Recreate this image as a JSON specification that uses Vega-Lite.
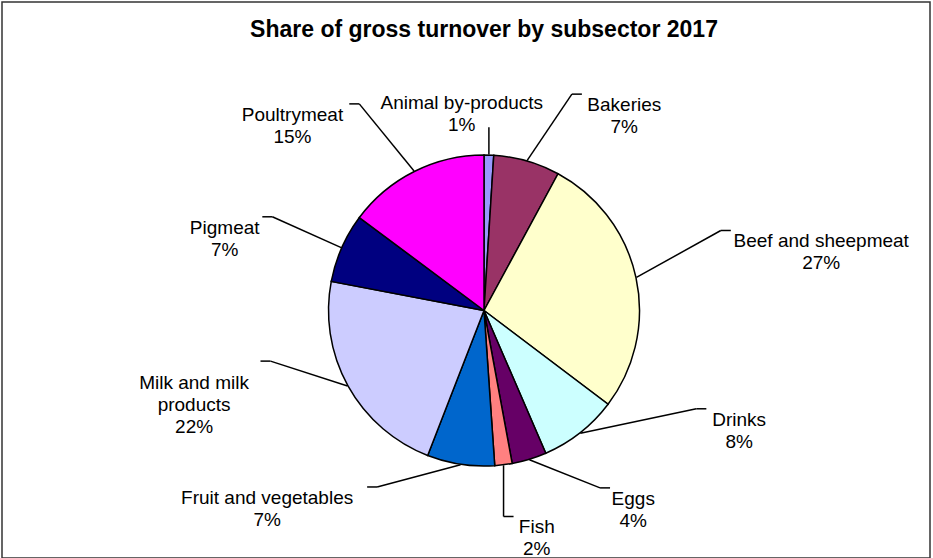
{
  "$schema": "https://vega.github.io/schema/vega-lite/v6.json",
  "width": 928,
  "height": 556,
  "autosize": {"type": "none"},
  "padding": {"left": 2, "top": 2, "right": 3, "bottom": 0},
  "background": "white",
  "config": {"view": {"stroke": "#333333", "strokeWidth": 1.5}, "font": "Liberation Sans"},
  "title": {
    "text": "Share of gross turnover by subsector 2017",
    "font": "Liberation Sans",
    "fontSize": 23,
    "fontWeight": "bold",
    "color": "black",
    "anchor": "middle",
    "frame": "group",
    "baseline": "alphabetic",
    "offset": -58,
    "dx": 18
  },
  "data": {
    "values": [
      {"subsector": "Animal by-products", "share": 1.0},
      {"subsector": "Bakeries", "share": 6.9},
      {"subsector": "Beef and sheepmeat", "share": 27.4},
      {"subsector": "Drinks", "share": 8.2},
      {"subsector": "Eggs", "share": 3.6},
      {"subsector": "Fish", "share": 1.8},
      {"subsector": "Fruit and vegetables", "share": 7.0},
      {"subsector": "Milk and milk products", "share": 22.1},
      {"subsector": "Pigmeat", "share": 7.2},
      {"subsector": "Poultrymeat", "share": 14.8}
    ]
  },
  "transform": [
    {"joinaggregate": [{"op": "sum", "field": "share", "as": "total"}]},
    {"window": [{"op": "sum", "field": "share", "as": "cum"}], "sort": [{"field": "subsector"}], "frame": [null, 0]},
    {"calculate": "360*(datum.cum - datum.share/2)/datum.total", "as": "mid"},
    {"calculate": "[-360, 0, 360]", "as": "copy"},
    {"flatten": ["copy"]},
    {"calculate": "datum.mid + datum.copy", "as": "ang"},
    {"window": [{"op": "row_number", "as": "k"}], "sort": [{"field": "ang"}]},
    {"calculate": "datum.ang - 30*datum.k", "as": "a"},
    {"window": [{"op": "max", "field": "a", "as": "fmax"}], "sort": [{"field": "ang"}], "frame": [null, 0]},
    {"window": [{"op": "min", "field": "a", "as": "bmin"}], "sort": [{"field": "ang"}], "frame": [0, null]},
    {"filter": "datum.copy == 0"},
    {"calculate": "((datum.fmax + datum.bmin)/2 + 30*datum.k)*PI/180", "as": "t"},
    {"calculate": "datum.mid*PI/180", "as": "tm"},
    {"calculate": "lastindexof(datum.subsector, ' ')", "as": "sp"},
    {"calculate": "length(datum.subsector) > 20", "as": "wrap"},
    {"calculate": "round(100*datum.share/datum.total) + '%'", "as": "pct"},
    {"calculate": "datum.wrap ? substring(datum.subsector, 0, datum.sp) + '\\n' + substring(datum.subsector, datum.sp + 1) + '\\n' + datum.pct : datum.subsector + '\\n' + datum.pct", "as": "txt"},
    {"calculate": "datum.wrap ? 3 : 2", "as": "n"},
    {"calculate": "4.8*(datum.wrap ? datum.sp : length(datum.subsector))", "as": "hw"},
    {"calculate": "11*datum.n", "as": "hh"},
    {"calculate": "156*sin(datum.tm)", "as": "ex"},
    {"calculate": "156*cos(datum.tm)", "as": "ey"},
    {"calculate": "sin(datum.tm) >= 0 ? 1 : -1", "as": "g"},
    {"calculate": "cos(datum.t) > 0.95", "as": "top"},
    {"calculate": "cos(datum.t) < -0.95", "as": "bottom"},
    {"calculate": "sin(datum.t)", "as": "s"},
    {"calculate": "datum.bottom ? datum.ex + datum.g*(datum.hw + 14) : (datum.s >= 0 ? 262 : 240)*datum.s + datum.hw*clamp((abs(datum.s) - 0.15)*3, 0, 1)*(datum.s >= 0 ? 1 : -1)", "as": "cx"},
    {"calculate": "cos(datum.t) > 0 ? (185 + datum.hh)*cos(datum.t) + 30*pow(sin(2*datum.t), 2) : (195 + datum.hh)*cos(datum.t)", "as": "cy"},
    {"calculate": "datum.top ? clamp(datum.ex, datum.cx - datum.hw, datum.cx + datum.hw) : datum.cx - datum.g*(datum.hw + 4)", "as": "px"},
    {"calculate": "datum.top ? datum.cy - datum.hh - 2 : datum.cy + 11*(datum.n - 1)", "as": "py"},
    {"calculate": "datum.top ? datum.px : datum.px - 10*datum.g", "as": "kx"},
    {"calculate": "datum.py", "as": "ky"}
  ],
  "layer": [
    {
      "mark": {"type": "arc", "outerRadius": 155.5, "stroke": "black", "strokeWidth": 1.5},
      "encoding": {
        "theta": {"field": "share", "type": "quantitative", "stack": true},
        "color": {
          "field": "subsector",
          "type": "nominal",
          "scale": {
            "domain": ["Animal by-products", "Bakeries", "Beef and sheepmeat", "Drinks", "Eggs", "Fish", "Fruit and vegetables", "Milk and milk products", "Pigmeat", "Poultrymeat"],
            "range": ["#9999FF", "#993366", "#FFFFCC", "#CCFFFF", "#660066", "#FF8080", "#0066CC", "#CCCCFF", "#000080", "#FF00FF"]
          },
          "legend": null
        },
        "x": {"datum": 0, "type": "quantitative", "scale": {"domain": [-482, 446], "nice": false, "zero": false}, "axis": null},
        "y": {"datum": 0, "type": "quantitative", "scale": {"domain": [-247.5, 308.5], "nice": false, "zero": false}, "axis": null}
      }
    },
    {
      "mark": {"type": "rule", "color": "black", "strokeWidth": 1.5},
      "encoding": {
        "x": {"field": "ex", "type": "quantitative", "scale": {"domain": [-482, 446], "nice": false, "zero": false}, "axis": null},
        "y": {"field": "ey", "type": "quantitative", "scale": {"domain": [-247.5, 308.5], "nice": false, "zero": false}, "axis": null},
        "x2": {"field": "kx"},
        "y2": {"field": "ky"}
      }
    },
    {
      "mark": {"type": "rule", "color": "black", "strokeWidth": 1.5},
      "encoding": {
        "x": {"field": "kx", "type": "quantitative", "scale": {"domain": [-482, 446], "nice": false, "zero": false}, "axis": null},
        "y": {"field": "ky", "type": "quantitative", "scale": {"domain": [-247.5, 308.5], "nice": false, "zero": false}, "axis": null},
        "x2": {"field": "px"},
        "y2": {"field": "py"}
      }
    },
    {
      "mark": {"type": "text", "font": "Liberation Sans", "fontSize": 19, "lineHeight": 22, "lineBreak": "\n", "align": "center", "baseline": "middle", "color": "black"},
      "encoding": {
        "x": {"field": "cx", "type": "quantitative", "scale": {"domain": [-482, 446], "nice": false, "zero": false}, "axis": null},
        "y": {"field": "cy", "type": "quantitative", "scale": {"domain": [-247.5, 308.5], "nice": false, "zero": false}, "axis": null},
        "text": {"field": "txt"}
      }
    }
  ]
}
